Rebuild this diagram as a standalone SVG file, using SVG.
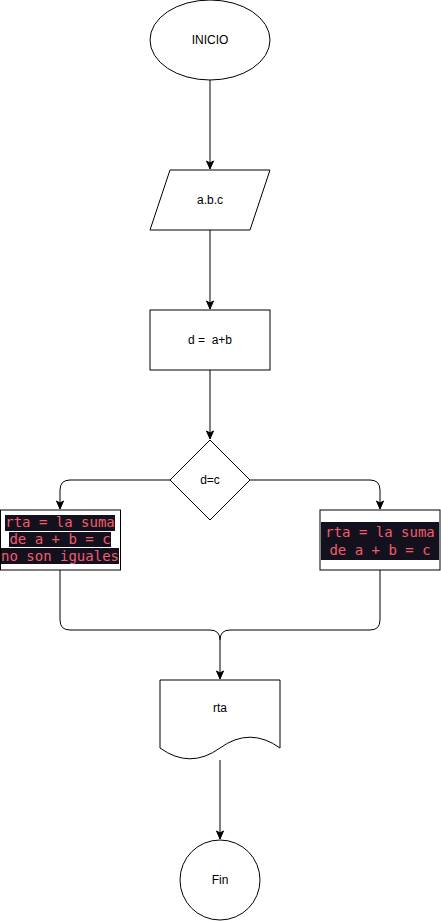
<svg xmlns="http://www.w3.org/2000/svg" width="441" height="921" viewBox="0 0 441 921">
<style>
.s{fill:#ffffff;stroke:#000000;stroke-width:1}
.c{fill:none;stroke:#000000;stroke-width:1}
.t{font-family:"Liberation Sans",Arial,sans-serif;font-size:12px;fill:#000000;text-anchor:middle;dominant-baseline:central}
.m{font-family:"DejaVu Sans Mono","Liberation Mono",monospace;font-size:14px;fill:#f35c6b;text-anchor:middle}
.bg{fill:#14111f}
</style>
<defs>
<marker id="ah" markerWidth="10" markerHeight="10" refX="9" refY="4.5" orient="auto" markerUnits="userSpaceOnUse">
<path d="M1,1 L9,4.5 L1,8 L3,4.5 Z" fill="#000" stroke="#000" stroke-width="1"/>
</marker>
</defs>
<rect width="441" height="921" fill="#ffffff"/>
<g id="connectors">
<path class="c" d="M210,80 V169" marker-end="url(#ah)"/>
<path class="c" d="M210,230 V309" marker-end="url(#ah)"/>
<path class="c" d="M210,370 V439" marker-end="url(#ah)"/>
<path class="c" d="M170,480 H70 Q60,480 60,490 V509" marker-end="url(#ah)"/>
<path class="c" d="M250,480 H370 Q380,480 380,490 V509" marker-end="url(#ah)"/>
<path class="c" d="M60,570 V620 Q60,630 70,630 H210 Q220,630 220,640 V679" marker-end="url(#ah)"/>
<path class="c" d="M380,570 V620 Q380,630 370,630 H230 Q220,630 220,640"/>
<path class="c" d="M220,760 V839" marker-end="url(#ah)"/>
</g>
<g id="inicio">
<ellipse class="s" cx="210" cy="40" rx="60" ry="40"/>
<text class="t" x="210" y="40">INICIO</text>
</g>
<g id="entrada">
<path class="s" d="M170,170 H270 L250,230 H150 Z"/>
<text class="t" x="210" y="200">a.b.c</text>
</g>
<g id="proceso">
<rect class="s" x="150" y="310" width="120" height="60"/>
<text class="t" x="210" y="340" xml:space="preserve">d =  a+b</text>
</g>
<g id="decision">
<path class="s" d="M210,440 L250,480 L210,520 L170,480 Z"/>
<text class="t" x="210" y="480">d=c</text>
</g>
<g id="no">
<rect class="s" x="0.5" y="510" width="120" height="60"/>
<rect class="bg" x="5" y="515" width="110" height="16"/>
<rect class="bg" x="9" y="532" width="102" height="15"/>
<rect class="bg" x="1" y="548" width="118" height="16"/>
<text class="m" x="60" y="527">rta = la suma</text>
<text class="m" x="60" y="544">de a + b = c</text>
<text class="m" x="60" y="561">no son iguales</text>
</g>
<g id="si">
<rect class="s" x="320" y="510" width="120" height="60"/>
<rect class="bg" x="321" y="522" width="118" height="38"/>
<text class="m" x="380" y="537">rta = la suma</text>
<text class="m" x="380" y="555">de a + b = c</text>
</g>
<g id="documento">
<path class="s" d="M160,680 H280 V748 Q250,726.4 220,748 Q190,769.6 160,748 Z"/>
<text class="t" x="220" y="708">rta</text>
</g>
<g id="fin">
<circle class="s" cx="220" cy="880" r="40"/>
<text class="t" x="220" y="880">Fin</text>
</g>
</svg>
